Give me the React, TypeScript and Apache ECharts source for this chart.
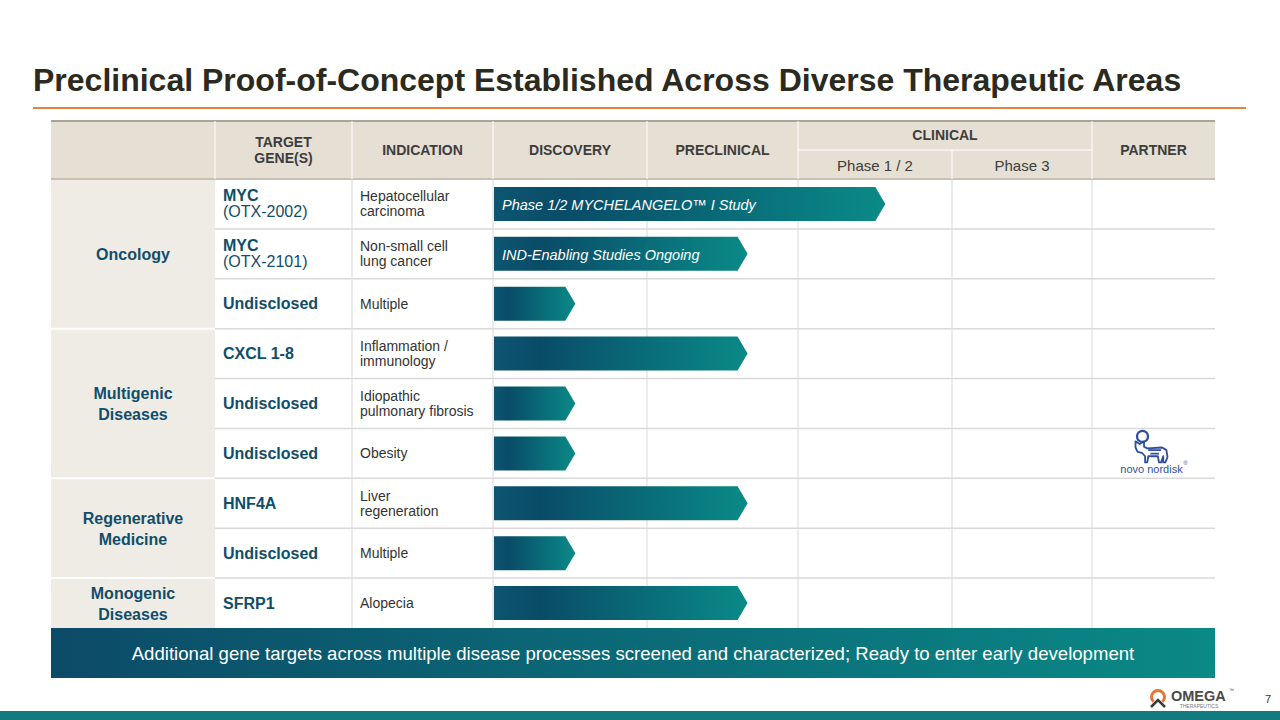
import React, { useEffect, useRef } from "react";
import * as echarts from "echarts";

// ---------- data ----------
const groups = ["Oncology", "Multigenic\nDiseases", "Regenerative\nMedicine", "Monogenic\nDiseases"];
const groupSizes = [3, 3, 2, 1];
const genes = ["MYC", "MYC", "Undisclosed", "CXCL 1-8", "Undisclosed", "Undisclosed", "HNF4A", "Undisclosed", "SFRP1"];
const geneCodes = ["(OTX-2002)", "(OTX-2101)", "", "", "", "", "", "", ""];
const indications = [
  "Hepatocellular\ncarcinoma",
  "Non-small cell\nlung cancer",
  "Multiple",
  "Inflammation /\nimmunology",
  "Idiopathic\npulmonary fibrosis",
  "Obesity",
  "Liver\nregeneration",
  "Multiple",
  "Alopecia",
];
// progress in stage units: 0 = start of Discovery, 1 Preclinical, 2 Phase 1/2, 3 Phase 3, 4 end
const progress = [2.62, 1.7, 0.55, 1.7, 0.55, 0.55, 1.7, 0.55, 1.7];
const barLabels = ["Phase 1/2 MYCHELANGELO\u2122 I Study", "IND-Enabling Studies Ongoing", "", "", "", "", "", "", ""];
const partners = ["", "", "", "", "", "novo nordisk", "", "", ""];
const headers = ["TARGET\nGENE(S)", "INDICATION", "DISCOVERY", "PRECLINICAL", "CLINICAL", "PARTNER"];
const clinicalPhases = ["Phase 1 / 2", "Phase 3"];
const title = "Preclinical Proof-of-Concept Established Across Diverse Therapeutic Areas";
const bannerText =
  "Additional gene targets across multiple disease processes screened and characterized; Ready to enter early development";

// ---------- layout ----------
const FONT = '"Liberation Sans", Arial, sans-serif';
const TEAL = "#0f4e6b";
const colX = [51, 215, 352, 493, 647, 798, 952, 1092, 1215];
const HEAD_T = 121;
const HEAD_M = 150;
const HEAD_B = 179;
const BODY_B = 628;
const BANNER_B = 678;

const bullPath =
  "M2 2 L6 5 L10 2 L10 8 L13 10 L27 9 L31 12 L32 20 L30 26 L28 26 L28 19 L26 26 L24 26 L23 19 L14 19 L13 26 L11 26 L11 19 L8 15 L4 14 L2 9 Z M14 12 L26 12 M16 16 L24 16";

function txt(x: number, y: number, text: string, o: any = {}) {
  return {
    type: "text",
    x,
    y,
    z: o.z ?? 5,
    style: {
      text,
      fill: o.fill ?? "#333",
      fontSize: o.size ?? 14,
      fontWeight: o.weight ?? "normal",
      fontStyle: o.italic ? "italic" : "normal",
      fontFamily: FONT,
      lineHeight: o.lh,
      align: o.align ?? "left",
      verticalAlign: o.va ?? "middle",
      textAlign: o.align ?? "left",
      textVerticalAlign: o.va ?? "middle",
    },
  };
}

function line(x1: number, y1: number, x2: number, y2: number, stroke: string, w = 1, z = 1) {
  return { type: "line", z, shape: { x1, y1, x2, y2 }, style: { stroke, lineWidth: w } };
}

export default function App() {
  const ref = useRef<HTMLDivElement>(null);

  useEffect(() => {
    if (!ref.current) return;
    const chart = echarts.init(ref.current, null, { renderer: "svg" });

    const rowIdx = genes.map((_, i) => i);
    const rowData = rowIdx.map((i) => [progress[i], i]);
    let acc = 0;
    const groupData = groupSizes.map((s, gi) => {
      const d = [acc, acc + s - 1, gi];
      acc += s;
      return d;
    });

    const g: any[] = [];
    // header background
    g.push({ type: "rect", z: 0, shape: { x: colX[0], y: HEAD_T, width: colX[8] - colX[0], height: HEAD_B - HEAD_T }, style: { fill: "#e6dfd4" } });
    // group column background
    g.push({ type: "rect", z: 0, shape: { x: colX[0], y: HEAD_B, width: colX[1] - colX[0], height: BODY_B - HEAD_B }, style: { fill: "#efebe5" } });
    // header lines
    g.push(line(colX[0], HEAD_T, colX[8], HEAD_T, "#aaa398", 2));
    g.push(line(colX[0], HEAD_B, colX[8], HEAD_B, "#c8c0b3", 2));
    [1, 2, 3, 4, 5, 7].forEach((c) => g.push(line(colX[c], HEAD_T, colX[c], HEAD_B, "#ffffff", 1)));
    g.push(line(colX[6], HEAD_M, colX[6], HEAD_B, "#ffffff", 1));
    g.push(line(colX[5], HEAD_M, colX[7], HEAD_M, "#ffffff", 1));
    // body vertical lines
    [2, 3, 4, 5, 6, 7].forEach((c) => g.push(line(colX[c], HEAD_B + 1, colX[c], BODY_B, "#d9d9d9", 1)));
    // header texts
    const hs = { weight: "bold", size: 14, fill: "#3d3d3d", align: "center", lh: 16 };
    g.push(txt((colX[1] + colX[2]) / 2, 150, headers[0], hs));
    g.push(txt((colX[2] + colX[3]) / 2, 150, headers[1], hs));
    g.push(txt((colX[3] + colX[4]) / 2, 150, headers[2], hs));
    g.push(txt((colX[4] + colX[5]) / 2, 150, headers[3], hs));
    g.push(txt((colX[5] + colX[7]) / 2, 135, headers[4], hs));
    g.push(txt((colX[7] + colX[8]) / 2, 150, headers[5], hs));
    g.push(txt((colX[5] + colX[6]) / 2, 165, clinicalPhases[0], { size: 15, fill: "#3d3d3d", align: "center" }));
    g.push(txt((colX[6] + colX[7]) / 2, 165, clinicalPhases[1], { size: 15, fill: "#3d3d3d", align: "center" }));
    // title
    g.push(txt(33, 80, title, { size: 32, weight: "bold", fill: "#2b2a20" }));
    g.push(line(33, 108, 1246, 108, "#e8803f", 2));
    // banner
    g.push({
      type: "rect",
      z: 3,
      shape: { x: colX[0], y: BODY_B, width: colX[8] - colX[0], height: BANNER_B - BODY_B },
      style: {
        fill: new echarts.graphic.LinearGradient(0, 0, 1, 0, [
          { offset: 0, color: "#0c4b68" },
          { offset: 1, color: "#0a8986" },
        ]),
      },
    });
    g.push(txt((colX[0] + colX[8]) / 2, 653, bannerText, { size: 18.6, fill: "#ffffff", align: "center", z: 6 }));
    // bottom band
    g.push({ type: "rect", z: 0, shape: { x: 0, y: 711, width: 1280, height: 9 }, style: { fill: "#117b7f" } });
    // Omega logo
    g.push({
      type: "arc",
      z: 5,
      shape: { cx: 1158, cy: 697, r: 6.5, startAngle: Math.PI / 2 + 0.75, endAngle: Math.PI / 2 - 0.75 + Math.PI * 2, clockwise: true },
      style: { stroke: "#e8743a", lineWidth: 3, fill: null },
    });
    g.push({ type: "polyline", z: 5, shape: { points: [[1151, 707], [1158, 700], [1165, 707]] }, style: { stroke: "#3a3a3a", lineWidth: 2.5, fill: null } });
    g.push(txt(1171, 696, "OMEGA", { size: 14.5, weight: "bold", fill: "#4a4a4a" }));
    g.push(txt(1229, 690, "\u2122", { size: 5, fill: "#4a4a4a" }));
    g.push(txt(1199, 706, "THERAPEUTICS", { size: 5, fill: "#777", align: "center" }));
    g.push(txt(1268, 699, "7", { size: 11, fill: "#333", align: "center" }));

    const option: any = {
      animation: false,
      grid: { left: colX[3], top: HEAD_B, width: colX[7] - colX[3], height: BODY_B - HEAD_B, containLabel: false },
      xAxis: { type: "value", min: 0, max: 4, show: false },
      yAxis: { type: "category", data: rowIdx.map(String), inverse: true, show: false },
      graphic: { elements: g },
      series: [
        {
          type: "custom",
          clip: false,
          data: rowData,
          encode: { x: 0, y: 1 },
          renderItem: (_p: any, api: any) => {
            const i = api.value(1) as number;
            const p = api.value(0) as number;
            const [x0, yc] = api.coord([0, i]);
            const [xe] = api.coord([p, i]);
            const band = api.size([0, 1])[1];
            const h = 34;
            const d = 10;
            const xs = x0 + 1;
            const children: any[] = [];
            if (i < genes.length - 1) {
              children.push({ type: "line", shape: { x1: colX[1], y1: yc + band / 2, x2: colX[8], y2: yc + band / 2 }, style: { stroke: "#d9d9d9", lineWidth: 1.5 } });
            }
            children.push({
              type: "polygon",
              shape: { points: [[xs, yc - h / 2], [xe - d, yc - h / 2], [xe, yc], [xe - d, yc + h / 2], [xs, yc + h / 2]] },
              style: {
                fill: new echarts.graphic.LinearGradient(0, 0, 1, 0, [
                  { offset: 0, color: "#0d5570" },
                  { offset: 0.18, color: "#094c68" },
                  { offset: 1, color: "#0a8a87" },
                ]),
              },
            });
            if (barLabels[i]) children.push(txt(xs + 8, yc + 1, barLabels[i], { size: 14.5, italic: true, fill: "#ffffff" }));
            if (geneCodes[i]) {
              children.push(txt(colX[1] + 8, yc - 8, genes[i], { size: 16, weight: "bold", fill: TEAL }));
              children.push(txt(colX[1] + 8, yc + 8, geneCodes[i], { size: 16, fill: TEAL }));
            } else {
              children.push(txt(colX[1] + 8, yc, genes[i], { size: 16, weight: "bold", fill: TEAL }));
            }
            children.push(txt(colX[2] + 8, yc, indications[i], { size: 14, fill: "#333", lh: 15 }));
            if (partners[i]) {
              const cx = (colX[7] + colX[8]) / 2;
              children.push({ type: "circle", shape: { cx: cx - 11, cy: yc - 17, r: 5.5 }, style: { stroke: "#2f4f9e", lineWidth: 2.2, fill: "none" } });
              children.push({
                type: "path",
                shape: { pathData: bullPath, x: cx - 18, y: yc - 12, width: 32, height: 21, layout: "cover" },
                style: { stroke: "#2f4f9e", lineWidth: 1.8, fill: "none", lineJoin: "round" },
              });
              children.push(txt(cx - 2, yc + 16, partners[i], { size: 11, fill: "#3550a0", align: "center" }));
              children.push(txt(cx + 32, yc + 10, "\u00ae", { size: 6, fill: "#3550a0", align: "center" }));
            }
            return { type: "group", children };
          },
        },
        {
          type: "custom",
          clip: false,
          data: groupData,
          encode: { x: 2, y: 0 },
          renderItem: (_p: any, api: any) => {
            const s = api.value(0) as number;
            const e = api.value(1) as number;
            const gi = api.value(2) as number;
            const band = api.size([0, 1])[1];
            const yTop = api.coord([0, s])[1] - band / 2;
            const yBot = api.coord([0, e])[1] + band / 2;
            const children: any[] = [
              txt((colX[0] + colX[1]) / 2, (yTop + yBot) / 2 + 0.5, groups[gi], { size: 16, weight: "bold", fill: TEAL, align: "center", lh: 21 }),
            ];
            if (gi < groups.length - 1) {
              children.push({ type: "line", shape: { x1: colX[0], y1: yBot, x2: colX[1], y2: yBot }, style: { stroke: "#ffffff", lineWidth: 2 } });
            }
            return { type: "group", children };
          },
        },
      ],
    };
    chart.setOption(option);
    return () => chart.dispose();
  }, []);

  return <div ref={ref} style={{ position: "fixed", left: 0, top: 0, width: 1280, height: 720, background: "#ffffff" }} />;
}
